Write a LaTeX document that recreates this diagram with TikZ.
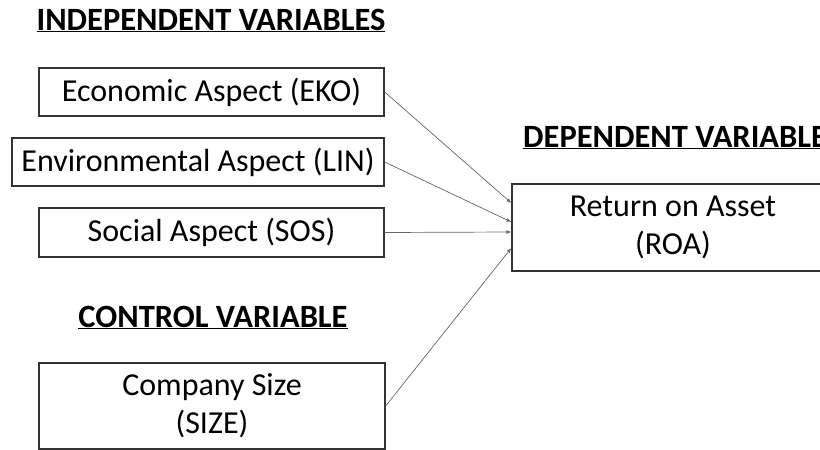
\documentclass[tikz,border=0pt]{standalone}
\usepackage{fontspec}
\setmainfont{Carlito}
\usepackage{tikz}
\usetikzlibrary{calc}
\usetikzlibrary{arrows}

\tikzset{
	varbox/.style={draw=black!80, line width=1.3pt, inner sep=0pt, align=center, font=\fontsize{32}{38}\selectfont},
	header/.style={inner sep=0pt, anchor=base, font=\fontsize{32.5}{38}\selectfont\bfseries},
	link/.style={draw=black!60, line width=0.7pt, ->, >=latex}
}

\begin{document}
\begin{tikzpicture}[x=1pt, y=-1pt]
			\useasboundingbox (0,0) rectangle (820,450);

			\node[header] (hind) at (211,30) {\underline{INDEPENDENT VARIABLES}};
			\node[header, anchor=base west] (hdep) at (523,147) {\underline{DEPENDENT VARIABLE}};
			\node[header] (hcon) at (213,327) {\underline{CONTROL VARIABLE}};

			\node[varbox, minimum width=345pt, minimum height=48pt] (eko) at (211.5,92) {Economic Aspect (EKO)};
			\node[varbox, minimum width=372pt, minimum height=48pt] (lin) at (198,162) {Environmental Aspect (LIN)};
			\node[varbox, minimum width=345pt, minimum height=49pt] (sos) at (211.5,232.5) {Social Aspect (SOS)};
			\node[varbox, minimum width=346pt, minimum height=86pt] (size) at (212,406) {Company Size\\(SIZE)};
			\node[varbox, minimum width=340pt, minimum height=87pt] (roa) at (682,227.5) {\hspace*{-18pt}Return on Asset\\\hspace*{-18pt}(ROA)};

			%tips on the left side of ROA
			\coordinate (t1) at ($(roa.west)+(0,-24.5)$);
			\coordinate (t2) at ($(roa.west)+(0,-5.5)$);
			\coordinate (t3) at ($(roa.west)+(0,4.5)$);
			\coordinate (t4) at ($(roa.west)+(0,20.5)$);

			\draw[link] (eko.east) -- (t1);
			\draw[link] (lin.east) -- (t2);
			\draw[link] (sos.east) -- (t3);
			\draw[link] (size.east) -- (t4);

		\end{tikzpicture}
\end{document}
